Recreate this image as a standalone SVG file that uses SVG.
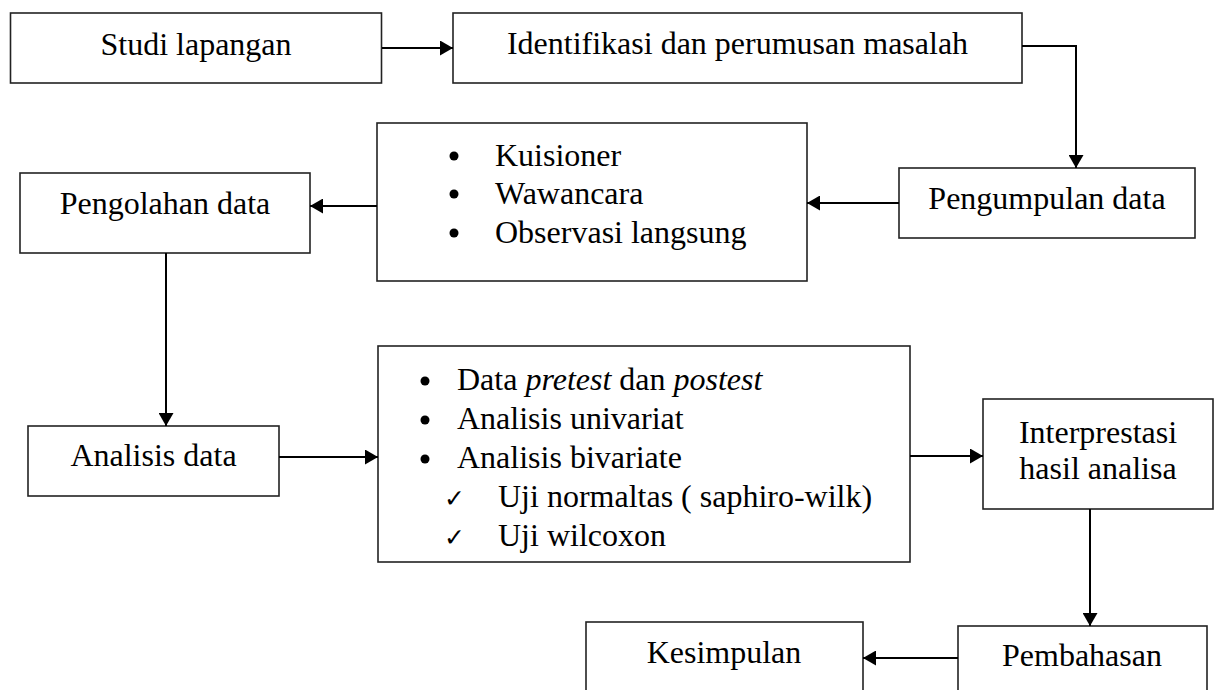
<svg xmlns="http://www.w3.org/2000/svg" width="1215" height="690" viewBox="0 0 1215 690">
<style>
.box{fill:#fff;stroke:#222;stroke-width:1.6}
.t{font-family:"Liberation Serif","Times New Roman",serif;font-size:32px;fill:#000}
.c{text-anchor:middle}
.i{font-style:italic}
.con{fill:none;stroke:#000;stroke-width:2}
.chk{font-family:"DejaVu Sans",sans-serif;font-size:25px;fill:#000}
</style>
<defs>
<marker id="ah" markerUnits="userSpaceOnUse" markerWidth="14" markerHeight="15" refX="13" refY="7.5" orient="auto">
<path d="M0,0 L13,7.5 L0,15 z" fill="#000"/>
</marker>
</defs>
<rect width="1215" height="690" fill="#fff"/>
<g id="n-studi"><rect class="box" x="10.5" y="13" width="371" height="70"/><text class="t c" x="196" y="55">Studi lapangan</text></g>
<g id="n-identifikasi"><rect class="box" x="453" y="13" width="569" height="70"/><text class="t c" x="737.5" y="54">Identifikasi dan perumusan masalah</text></g>
<g id="n-pengumpulan"><rect class="box" x="899" y="168" width="296" height="70"/><text class="t c" x="1047" y="209">Pengumpulan data</text></g>
<g id="n-metode"><rect class="box" x="377" y="123" width="430" height="158"/>
<circle cx="454" cy="156" r="4.5"/><circle cx="454" cy="194" r="4.5"/><circle cx="454" cy="233" r="4.5"/>
<text class="t" x="495" y="166">Kuisioner</text><text class="t" x="495" y="204">Wawancara</text><text class="t" x="495" y="243">Observasi langsung</text></g>
<g id="n-pengolahan"><rect class="box" x="20" y="173" width="290" height="80"/><text class="t c" x="165" y="214">Pengolahan data</text></g>
<g id="n-analisis"><rect class="box" x="28" y="426" width="251" height="70"/><text class="t c" x="153.5" y="466">Analisis data</text></g>
<g id="n-uji"><rect class="box" x="378" y="346" width="532" height="216"/>
<circle cx="425" cy="381" r="4.5"/><circle cx="425" cy="420" r="4.5"/><circle cx="425" cy="459" r="4.5"/>
<text class="t" x="457" y="390">Data <tspan class="i">pretest</tspan> dan <tspan class="i">postest</tspan></text>
<text class="t" x="457" y="429">Analisis univariat</text>
<text class="t" x="457" y="468">Analisis bivariate</text>
<text class="chk" x="444" y="507">✓</text><text class="t" x="498" y="507">Uji normaltas ( saphiro-wilk)</text>
<text class="chk" x="444" y="546">✓</text><text class="t" x="498" y="546">Uji wilcoxon</text></g>
<g id="n-interprestasi"><rect class="box" x="983" y="399" width="230" height="110"/><text class="t c" x="1098" y="443">Interprestasi</text><text class="t c" x="1098" y="479">hasil analisa</text></g>
<g id="n-pembahasan"><rect class="box" x="958" y="626" width="249" height="100"/><text class="t c" x="1082" y="666">Pembahasan</text></g>
<g id="n-kesimpulan"><rect class="box" x="586" y="622" width="277" height="100"/><text class="t c" x="724" y="663">Kesimpulan</text></g>
<g id="connectors">
<path class="con" d="M382,48 H453" marker-end="url(#ah)"/>
<path class="con" d="M1022,46 H1076 V168" marker-end="url(#ah)"/>
<path class="con" d="M899,203 H807" marker-end="url(#ah)"/>
<path class="con" d="M377,206 H310" marker-end="url(#ah)"/>
<path class="con" d="M166,253 V426" marker-end="url(#ah)"/>
<path class="con" d="M279,457 H378" marker-end="url(#ah)"/>
<path class="con" d="M910,456 H983" marker-end="url(#ah)"/>
<path class="con" d="M1090,509 V626" marker-end="url(#ah)"/>
<path class="con" d="M958,658 H863" marker-end="url(#ah)"/>
</g>
</svg>
